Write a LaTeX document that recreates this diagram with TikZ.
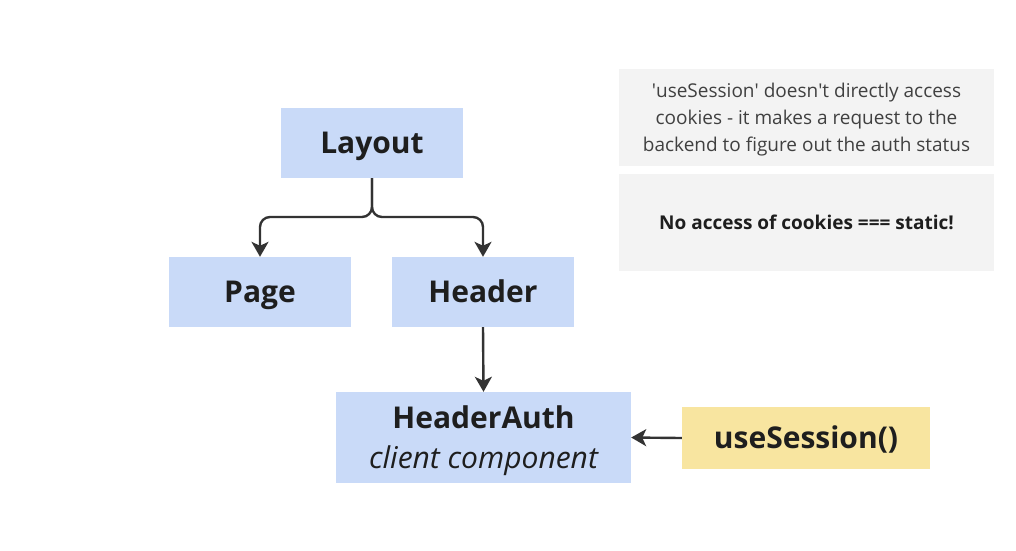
\documentclass[tikz,border=0pt]{standalone}
\usepackage{fontspec}
\setmainfont{Open Sans}
\usetikzlibrary{arrows.meta}
\definecolor{boxblue}{HTML}{C9DAF8}
\definecolor{boxyellow}{HTML}{F8E5A0}
\definecolor{notegray}{HTML}{F3F3F3}
\definecolor{ink}{HTML}{1E1E1E}
\definecolor{linec}{HTML}{333333}
\tikzset{
  blk/.style={fill=boxblue, draw=none, inner sep=0pt, align=center, text=ink, font=\fontsize{30}{36}\selectfont\bfseries, text height=21.4pt, text depth=0pt},
  ylw/.style={fill=boxyellow, draw=none, inner sep=0pt, align=center, text=ink, font=\fontsize{30}{36}\selectfont\bfseries, text height=21.4pt, text depth=0pt},
  note/.style={fill=notegray, draw=none, inner sep=0pt, align=center, text=ink!85, minimum width=375pt, minimum height=97pt},
  conn/.style={draw=linec, line width=2.4pt, -{Stealth[length=15pt,width=17pt,inset=4pt]}},
}
\newcommand{\sq}{\textquotesingle}
\begin{document}
\begin{tikzpicture}[x=1pt,y=-1pt]
\useasboundingbox (0,0) rectangle (1016,550);
\node[blk, minimum width=182pt, minimum height=70pt] (layout) at (372,143) {Layout};
\node[blk, minimum width=182pt, minimum height=70pt] (page) at (260,292) {Page};
\node[blk, minimum width=182pt, minimum height=70pt] (header) at (483,292) {Header};
\node[blk, minimum width=295pt, minimum height=91pt, font=\fontsize{30}{40}\selectfont\bfseries, text height=61.4pt, text depth=-3pt] (auth) at (483.5,437.5) {HeaderAuth\\{\mdseries\itshape client component}};
\node[ylw, minimum width=248pt, minimum height=62pt] (use) at (806,438) {useSession()};
\node[note, font=\fontsize{19}{27}\selectfont, text height=67.6pt, text depth=0pt] (n1) at (806.5,117.5) {\sq useSession\sq{} doesn\sq t directly access\\cookies - it makes a request to the\\backend to figure out the auth status};
\node[note, font=\fontsize{19}{24}\selectfont\bfseries, text=ink, text height=13.6pt, text depth=0pt] (n2) at (806.5,222.5) {No access of cookies === static!};
\coordinate (j) at (372,217);
\draw[conn, rounded corners=10pt] (layout.south) -- (j) -| (page.north);
\draw[conn, rounded corners=10pt] (layout.south) -- (j) -| (header.north);
\draw[conn] (header.south) -- (auth.north);
\draw[conn] (use.west) -- (auth.east);
\end{tikzpicture}
\end{document}
